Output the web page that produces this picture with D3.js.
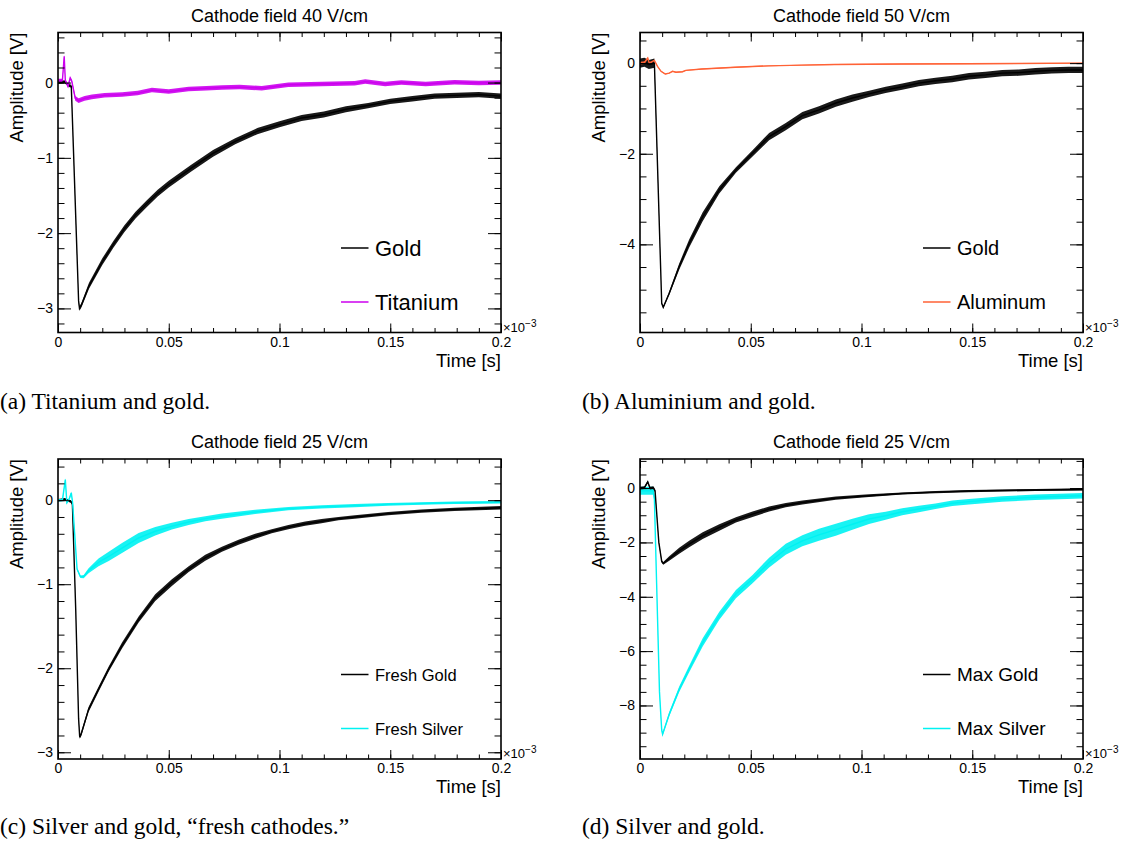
<!DOCTYPE html>
<html>
<head>
<meta charset="utf-8">
<script src="https://cdn.jsdelivr.net/npm/d3@7"></script>
<style>
  body { margin:0; background:#fff; }
  .tick text { font-family:"Liberation Sans", Arial, sans-serif; font-size:14px; fill:#000; }
  .tick line { stroke:#000; stroke-width:1; }
  .lab { font-family:"Liberation Sans", Arial, sans-serif; fill:#000; }
  .cap { font-family:"Liberation Serif", "Times New Roman", serif; font-size:23.5px; fill:#000; }
</style>
</head>
<body>
<div id="canvas"></div>
<script>
// time axis is in units of 1e-3 s (the axis shows x10^-3)
var titles = ['Cathode field 40 V/cm','Cathode field 50 V/cm','Cathode field 25 V/cm','Cathode field 25 V/cm'];
var captions = ['(a) Titanium and gold.','(b) Aluminium and gold.','(c) Silver and gold, \u201cfresh cathodes.\u201d','(d) Silver and gold.'];
var xTicks = [0,0.05,0.1,0.15,0.2];

// (a) 40 V/cm : gold + titanium
var tGoldA = [0,0.003,0.005,0.006,0.0093,0.0097,0.0105,0.014,0.02,0.025,0.03,0.035,0.04,0.045,0.05,0.06,0.07,0.08,0.09,0.1,0.11,0.12,0.13,0.14,0.15,0.16,0.17,0.18,0.19,0.2];
var goldA  = [0,0.01,-0.04,-0.05,-2.9,-3.0,-2.96,-2.7,-2.38,-2.15,-1.94,-1.76,-1.61,-1.47,-1.35,-1.14,-0.94,-0.78,-0.645,-0.555,-0.47,-0.425,-0.355,-0.305,-0.25,-0.215,-0.18,-0.17,-0.16,-0.18];
var sGoldA = [0.02,0.02,0.02,0.02,0.02,0.03,0.03,0.04,0.045,0.045,0.045,0.045,0.045,0.045,0.045,0.045,0.045,0.04,0.04,0.04,0.04,0.04,0.04,0.035,0.035,0.035,0.035,0.035,0.035,0.035];
var tTitA  = [0,0.002,0.0028,0.0033,0.0045,0.0055,0.0062,0.0078,0.0093,0.012,0.0153,0.021,0.029,0.036,0.0424,0.05,0.059,0.067,0.074,0.082,0.092,0.104,0.119,0.134,0.1387,0.1477,0.155,0.166,0.179,0.19,0.2];
var titA   = [0.03,0.03,0.35,0.03,-0.05,0.06,0.02,-0.21,-0.24,-0.21,-0.19,-0.17,-0.16,-0.14,-0.1,-0.12,-0.085,-0.075,-0.065,-0.06,-0.075,-0.03,-0.02,-0.01,0.013,-0.018,0,-0.02,0.005,-0.005,0];
var sTitA  = [0.02,0.02,0.02,0.02,0.02,0.02,0.02,0.03,0.03,0.03,0.03,0.03,0.03,0.03,0.03,0.03,0.03,0.03,0.03,0.03,0.03,0.03,0.03,0.03,0.03,0.03,0.03,0.03,0.03,0.03,0.03];

// (b) 50 V/cm : gold + aluminum
var tGoldB = [0,0.002,0.004,0.0065,0.0098,0.0105,0.0132,0.0177,0.0222,0.0283,0.0358,0.0433,0.0508,0.0583,0.0658,0.0733,0.0808,0.0884,0.0959,0.1034,0.1109,0.1184,0.1259,0.1334,0.141,0.1485,0.156,0.1635,0.171,0.1785,0.186,0.1935,0.2];
var goldB  = [0,0.02,-0.03,0,-5.3,-5.39,-5.08,-4.49,-3.98,-3.39,-2.8,-2.36,-1.99,-1.62,-1.4,-1.16,-1.03,-0.88,-0.77,-0.68,-0.59,-0.52,-0.44,-0.39,-0.35,-0.29,-0.26,-0.22,-0.21,-0.18,-0.16,-0.15,-0.15];
var sGoldB = [0.1,0.1,0.1,0.1,0.02,0.02,0.04,0.07,0.09,0.1,0.08,0.06,0.07,0.08,0.08,0.08,0.08,0.08,0.08,0.07,0.07,0.07,0.07,0.07,0.07,0.07,0.07,0.07,0.07,0.07,0.07,0.07,0.07];
var tAlB   = [0,0.002,0.0035,0.0042,0.0065,0.0079,0.0095,0.0114,0.0132,0.0147,0.0162,0.0192,0.0207,0.028,0.043,0.058,0.073,0.088,0.118,0.148,0.2];
var alB    = [0,0.01,0.11,0,0.06,-0.07,-0.18,-0.24,-0.22,-0.18,-0.2,-0.19,-0.16,-0.13,-0.09,-0.06,-0.045,-0.03,-0.02,-0.015,0];
var sAlB   = [0.03,0.03,0.02,0.02,0.01,0.01,0.01,0.01,0.01,0.01,0.01,0.01,0.01,0.01,0.01,0.01,0.01,0.01,0.01,0.01,0.01];

// (c) 25 V/cm fresh : gold + silver
var tGoldC = [0,0.003,0.006,0.0065,0.008,0.0093,0.0098,0.0105,0.0138,0.0183,0.0229,0.0289,0.0364,0.0439,0.0514,0.059,0.0665,0.074,0.0815,0.089,0.0965,0.104,0.1116,0.119,0.1266,0.134,0.149,0.164,0.179,0.2];
var goldC  = [0,0.01,-0.02,-0.05,-1.3,-2.6,-2.82,-2.78,-2.49,-2.25,-2.01,-1.73,-1.42,-1.16,-0.98,-0.82,-0.685,-0.585,-0.5,-0.43,-0.37,-0.32,-0.28,-0.25,-0.22,-0.2,-0.16,-0.13,-0.11,-0.09];
var sGoldC = [0.015,0.015,0.015,0.015,0.015,0.02,0.02,0.025,0.03,0.03,0.03,0.035,0.035,0.04,0.04,0.035,0.035,0.03,0.03,0.03,0.025,0.025,0.025,0.025,0.02,0.02,0.02,0.02,0.02,0.02];
var tSilC  = [0,0.002,0.0033,0.004,0.005,0.006,0.0066,0.0075,0.0086,0.0101,0.0116,0.0138,0.0183,0.0229,0.0289,0.0364,0.0439,0.0514,0.059,0.0665,0.074,0.089,0.104,0.119,0.134,0.149,0.164,0.179,0.2];
var silC   = [0,0,0.245,-0.03,0.01,0.087,-0.03,-0.39,-0.82,-0.91,-0.91,-0.84,-0.74,-0.67,-0.57,-0.45,-0.37,-0.31,-0.26,-0.22,-0.19,-0.14,-0.1,-0.08,-0.065,-0.05,-0.04,-0.03,-0.024];
var sSilC  = [0.015,0.015,0.015,0.015,0.015,0.015,0.015,0.015,0.015,0.015,0.02,0.03,0.045,0.055,0.06,0.06,0.05,0.04,0.035,0.03,0.03,0.025,0.02,0.02,0.02,0.015,0.015,0.015,0.015];

// (d) 25 V/cm max : gold + silver
var tGoldD = [0,0.002,0.0035,0.0045,0.006,0.0068,0.0085,0.0098,0.0105,0.0132,0.0177,0.0222,0.0283,0.0358,0.0433,0.0508,0.0583,0.0658,0.0733,0.0884,0.1034,0.1184,0.1334,0.1485,0.1635,0.1785,0.2];
var goldD  = [0,0.02,0.23,0,0.02,-0.1,-2.0,-2.7,-2.77,-2.59,-2.31,-2.06,-1.75,-1.45,-1.17,-0.96,-0.77,-0.63,-0.53,-0.37,-0.28,-0.2,-0.15,-0.11,-0.09,-0.07,-0.05];
var sGoldD = [0.05,0.05,0.05,0.05,0.05,0.05,0.05,0.05,0.05,0.08,0.11,0.12,0.12,0.12,0.1,0.1,0.09,0.08,0.07,0.06,0.05,0.04,0.04,0.04,0.04,0.04,0.04];
var tSilD  = [0,0.003,0.006,0.0065,0.0075,0.0088,0.0098,0.0102,0.0132,0.0177,0.0222,0.0283,0.0358,0.0433,0.0508,0.0583,0.0658,0.0733,0.0808,0.0884,0.0959,0.1034,0.1109,0.1184,0.1259,0.1334,0.141,0.1485,0.1635,0.1785,0.2];
var silD   = [-0.1,-0.1,-0.1,-0.4,-3.5,-7.5,-8.9,-9.06,-8.32,-7.4,-6.66,-5.68,-4.7,-3.9,-3.35,-2.74,-2.25,-1.94,-1.72,-1.53,-1.33,-1.14,-1.02,-0.87,-0.77,-0.67,-0.56,-0.5,-0.4,-0.34,-0.28];
var sSilD  = [0.15,0.15,0.15,0.1,0.05,0.05,0.05,0.05,0.08,0.1,0.12,0.15,0.15,0.15,0.15,0.18,0.2,0.2,0.22,0.22,0.2,0.18,0.15,0.13,0.12,0.1,0.1,0.1,0.1,0.1,0.1];

// y ranges / ticks per panel
var yDomA = [-3.32,0.665], yMajA = [-3,-2,-1,0], yMinA = d3.range(-16,4).map(function(i){return +(i*0.2).toFixed(2)});
var yDomB = [-5.945,0.676], yMajB = [-4,-2,0],   yMinB = d3.range(-11,2).map(function(i){return i*0.5});
var yDomC = [-3.08,0.49],  yMajC = [-3,-2,-1,0], yMinC = d3.range(-15,3).map(function(i){return +(i*0.2).toFixed(2)});
var yDomD = [-9.97,1.07],  yMajD = [-8,-6,-4,-2,0], yMinD = d3.range(-19,3).map(function(i){return i*0.5});
var xMinor = d3.range(0,21).map(function(i){return +(i*0.01).toFixed(2)});

var svg = d3.select('#canvas').append('svg').attr('width',1127).attr('height',848);

function ser(t,v,s,color,name){
  return {pts: t.map(function(d,i){return {t:d, v:v[i], s:s[i]}}), color:color, name:name};
}

var panels = [
  {x:58, y:32.5, w:443, h:300, title:titles[0], yDom:yDomA, yMaj:yMajA, yMin:yMinA, legSize:22,
   draw:[ser(tGoldA,goldA,sGoldA,'#000','Gold'), ser(tTitA,titA,sTitA,'#cc00ee','Titanium')],
   legend:[0,1], cap:captions[0], capX:0, capY:409},
  {x:640, y:32.5, w:443, h:300, title:titles[1], yDom:yDomB, yMaj:yMajB, yMin:yMinB, legSize:20,
   draw:[ser(tGoldB,goldB,sGoldB,'#000','Gold'), ser(tAlB,alB,sAlB,'#ff6236','Aluminum')],
   legend:[0,1], cap:captions[1], capX:582, capY:409},
  {x:58, y:459, w:443, h:300, title:titles[2], yDom:yDomC, yMaj:yMajC, yMin:yMinC, legSize:16.5,
   draw:[ser(tGoldC,goldC,sGoldC,'#000','Fresh Gold'), ser(tSilC,silC,sSilC,'#00f2f2','Fresh Silver')],
   legend:[0,1], cap:captions[2], capX:0, capY:834},
  {x:640, y:459, w:443, h:300, title:titles[3], yDom:yDomD, yMaj:yMajD, yMin:yMinD, legSize:19,
   draw:[ser(tSilD,silD,sSilD,'#00f2f2','Max Silver'), ser(tGoldD,goldD,sGoldD,'#000','Max Gold')],
   legend:[1,0], cap:captions[3], capX:582, capY:834}
];

panels.forEach(function(p,pi){
  var g = svg.append('g').attr('transform','translate('+p.x+','+p.y+')');
  var sx = d3.scaleLinear().domain([0,0.2]).range([0,p.w]);
  var sy = d3.scaleLinear().domain(p.yDom).range([p.h,0]);
  var fmt = d3.format('');

  g.append('clipPath').attr('id','clip'+pi).append('rect').attr('width',p.w).attr('height',p.h);
  var plot = g.append('g').attr('clip-path','url(#clip'+pi+')');

  var area = d3.area().x(function(d){return sx(d.t)})
      .y0(function(d){return sy(d.v-d.s)}).y1(function(d){return sy(d.v+d.s)});
  var line = d3.line().x(function(d){return sx(d.t)}).y(function(d){return sy(d.v)});

  p.draw.forEach(function(s){
    plot.append('path').datum(s.pts).attr('d',area).attr('fill',s.color).attr('opacity',0.9);
    plot.append('path').datum(s.pts).attr('d',line).attr('fill','none')
        .attr('stroke',s.color).attr('stroke-width',1.4);
  });

  // axes, ticks inward like ROOT
  g.append('g').attr('transform','translate(0,'+p.h+')')
    .call(d3.axisBottom(sx).tickValues(xTicks).tickFormat(fmt).tickSizeInner(-9).tickSizeOuter(0).tickPadding(4.5));
  g.append('g').attr('transform','translate(0,'+p.h+')')
    .call(d3.axisBottom(sx).tickValues(xMinor).tickFormat('').tickSizeInner(-4.5).tickSizeOuter(0));
  g.append('g').call(d3.axisTop(sx).tickValues(xTicks).tickFormat('').tickSizeInner(-9).tickSizeOuter(0));
  g.append('g').call(d3.axisTop(sx).tickValues(xMinor).tickFormat('').tickSizeInner(-4.5).tickSizeOuter(0));

  g.append('g').call(d3.axisLeft(sy).tickValues(p.yMaj).tickFormat(fmt).tickSizeInner(-13).tickSizeOuter(0).tickPadding(5));
  g.append('g').call(d3.axisLeft(sy).tickValues(p.yMin).tickFormat('').tickSizeInner(-6.5).tickSizeOuter(0));
  g.append('g').attr('transform','translate('+p.w+',0)')
    .call(d3.axisRight(sy).tickValues(p.yMaj).tickFormat('').tickSizeInner(-13).tickSizeOuter(0));
  g.append('g').attr('transform','translate('+p.w+',0)')
    .call(d3.axisRight(sy).tickValues(p.yMin).tickFormat('').tickSizeInner(-6.5).tickSizeOuter(0));
  g.selectAll('.domain').remove();

  g.append('rect').attr('width',p.w).attr('height',p.h)
    .attr('fill','none').attr('stroke','#000').attr('stroke-width',1.6);

  // labels
  g.append('text').attr('class','lab').attr('x',p.w/2).attr('y',-11)
    .attr('text-anchor','middle').style('font-size','18px').text(p.title);
  g.append('text').attr('class','lab').attr('transform','translate(-35,0) rotate(-90)')
    .attr('text-anchor','end').style('font-size','18.5px').text('Amplitude [V]');
  g.append('text').attr('class','lab').attr('x',p.w).attr('y',p.h+34)
    .attr('text-anchor','end').style('font-size','18.5px').text('Time [s]');
  var ex = g.append('text').attr('class','lab').attr('x',p.w+2).attr('y',p.h-1).style('font-size','13px');
  ex.append('tspan').text('\u00d710');
  ex.append('tspan').attr('dy',-5).style('font-size','10px').text('\u22123');

  // legend
  p.legend.forEach(function(k,i){
    var s = p.draw[k], ly = [215.5,269.5][i];
    g.append('line').attr('x1',283).attr('x2',310.5).attr('y1',ly).attr('y2',ly)
      .attr('stroke',s.color).attr('stroke-width',1.5);
    g.append('text').attr('class','lab').attr('x',317).attr('y',ly)
      .attr('dominant-baseline','central').style('font-size',p.legSize+'px').text(s.name);
  });

  svg.append('text').attr('class','cap').attr('x',p.capX).attr('y',p.capY).text(p.cap);
});
</script>
</body>
</html>
